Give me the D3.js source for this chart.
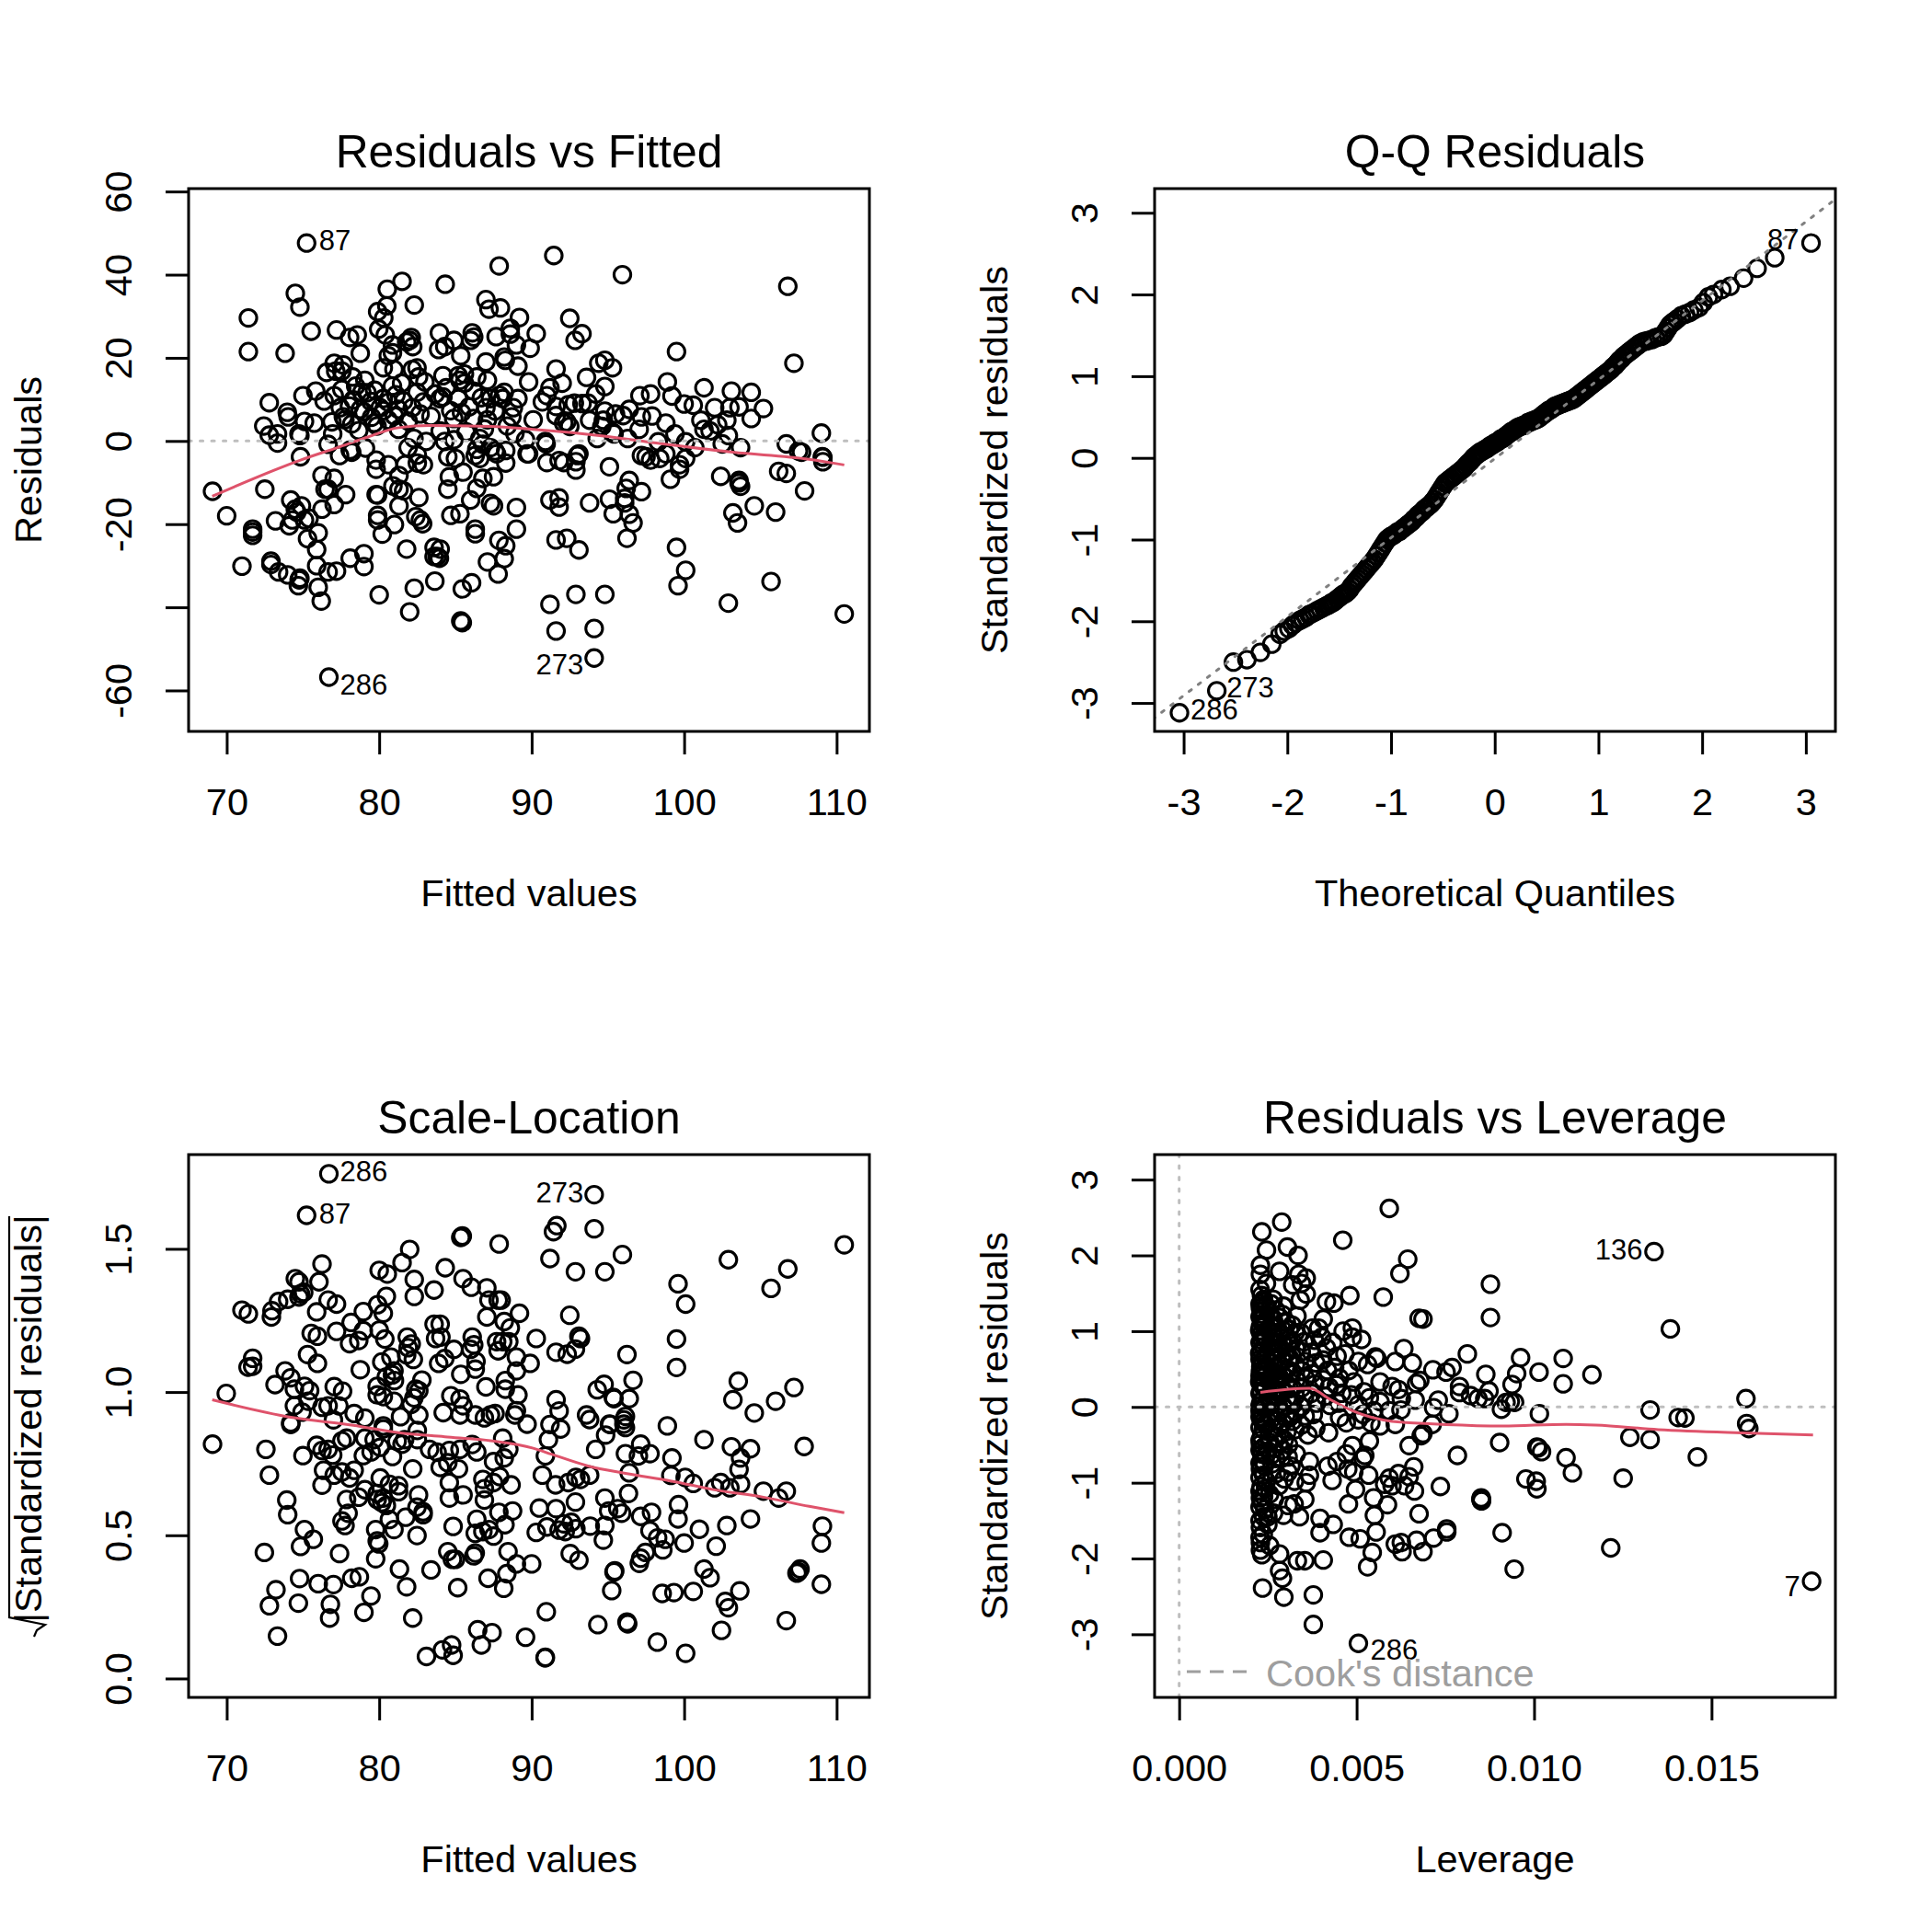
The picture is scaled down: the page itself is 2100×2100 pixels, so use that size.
<!DOCTYPE html>
<html>
<head>
<meta charset="utf-8">
<script src="https://cdn.jsdelivr.net/npm/d3@7"></script>
<style>
  html, body { margin: 0; padding: 0; background: #fff; }
  text { font-family: "Liberation Sans", Arial, sans-serif; fill: #000; }
</style>
</head>
<body>
<div id="chart"></div>
<script>
// values
var fittedTicks = [70, 80, 90, 100, 110];
var fittedTickLabels = ['70', '80', '90', '100', '110'];
var residTicks = [-60, -40, -20, 0, 20, 40, 60];
var residTickLabels = ['-60', '', '-20', '0', '20', '40', '60'];
var qqTicks = [-3, -2, -1, 0, 1, 2, 3];
var qqTickLabels = ['-3', '-2', '-1', '0', '1', '2', '3'];
var scaleTicks = [0, 0.5, 1, 1.5];
var scaleTickLabels = ['0.0', '0.5', '1.0', '1.5'];
var levTicks = [0, 0.005, 0.01, 0.015];
var levTickLabels = ['0.000', '0.005', '0.010', '0.015'];

var residPoints = [
[75.24,47.6],[87.87,42.1],[81.5,38.4],[80.53,36.5],[84.33,37.7],[74.5,35.5],[74.8,32.2],[82.3,32.7],[80.5,32.5],[79.9,31.1],[80.3,29.6],[71.42,29.6],
[87,34],[87.2,31.7],[87.95,32],[89.2,29.7],[88.6,27.1],[75.54,26.4],[77.2,26.7],[78.06,24.9],[78.56,25.5],[79.97,26.9],[80.4,25.5],[71.42,21.5],[73.83,21.1],[78.76,21.1],
[80.87,23.1],[80.6,20.5],[80.87,21.2],[82.1,24.9],[81.8,23.8],[82.2,22.7],[82,24.2],[83.95,26],[84.9,24.2],[83.9,22],[84.3,22.7],[85.35,20.5],[86.1,26],[86,24.2],[86.2,25],
[87.67,25.1],[88.6,25.7],[89,23.1],[90.3,25.8],[89.9,22.3],[87,19],[88.27,19.4],[88.2,20.2],[89.1,18],[89.8,14.2],
[77.05,18.7],[77.65,18.3],[76.55,16.5],[77.15,16.8],[77.55,16.8],[80.27,17.6],[80.97,17.2],[82.17,17.2],[82.48,17.6],[82.58,15.4],[84.18,15.7],[85.19,15.7],[85.59,16.1],[86.4,15.4],[85.29,14.6],[85.59,13.9],[87.1,14.6],
[78.26,15.4],[79.06,14.6],[78.46,13.2],[78.05,8.4],[77.45,8],[77.65,5.8],[77.75,5.1],[78.76,7.6],[78.86,11.7],[79.46,9.5],[80.06,8],[80.87,13.2],[80.27,7.3],[79.86,3.6],[81.27,7.6],[80.27,10.2],[81.47,13.9],[82.48,11.7],[82.17,8],[82.68,6.5],[81.27,2.8],[82.28,0.6],[83.08,-0.1],
[83.68,11.3],[84.18,10.6],[83.98,10.2],[84.69,7.3],[84.89,5.4],[85.19,10.2],[86.19,12],[87,8],[86.19,5.4],[87.1,5.1],[87.9,11],[88.2,11.7],[88.8,8],[88.1,10.2],[88.7,5.8],[87.3,10.2],[88.4,3.6],[89.6,0.3],[90.1,5.1],[86.6,0.6],[84.9,0.3],[84.3,-0.1],
[79.66,4.3],[78.66,2.5],[76.95,1.7],[76.65,-0.8],[74.74,1.7],[74.8,1.3],[73.33,1.7],[73.33,-0.5],[72.79,1.4],[72.43,3.6],[73.97,6.9],[74.03,5.8],[75.1,4.7],[75.74,4.3],[72.79,9.2],[75,10.9],[75.84,12],[76.39,9.6],[77.05,10.9],[77.55,12.4],
[79.5,5.7],[80.6,5],[78.3,9.9],[81.1,11.1],[79.7,12.2],[76.9,4.6],[81.9,4.8],[85.9,8.2],[86.9,2.9],[88.9,1.8],[85.7,2.2],[83.4,5.9],[79.1,-1.7],[78.1,-2.2],[74.84,-3.8],[81.9,-1.6],[82.5,-3.4],[88.3,-2.3],[87.3,-1.6],[86.8,-0.8],[87.6,-2.4],[89.7,-3.1],[86.4,-2],
[79.2,11.6],[80.6,9.3],[81.6,9.6],[79,7],[81,6],[82.9,9.4],[84.4,12.8],[86.7,10.4],[87.6,7.2],[85.4,6.8],[89.1,10.2],[78.2,4.1],[84,2.4],[83,14.2],
[91.45,44.6],[95.95,40],[106.8,37.2],[92.5,29.5],[93.3,25.8],[92.85,24.2],[99.5,21.5],[107.2,18.7],[91.6,17.3],[92,13.9],[93.6,15.3],[94.4,18.7],[94.8,19.4],[95.3,17.6],[94.8,13.1],[94.2,11.3],
[91.2,12.8],[91,10.9],[90.7,9.4],[91.6,8.3],[92.4,8.7],[92.8,9.1],[93.3,9],[93.7,9.1],[91.6,6.1],[92.3,4.6],[92.5,3.5],[92.1,4.3],[93.8,5],[94.8,7.2],[94.7,5],[94.6,3.5],[95.3,2.1],
[96,6.1],[95.5,6.5],[96.4,7.6],[97.1,10.9],[97.8,11.3],[97.2,5.8],[97.9,6],[97.05,2.8],[98.8,4.3],[98.9,14.2],[99.2,10.8],[100,8.9],[100.6,8.6],[101.3,12.8],[102,8],[103.1,12],[104.4,11.7],[103,8],[103.6,8.2],[105.2,7.8],[104.4,5.4],[102.8,5],
[101.1,5],[101.3,2.8],[101.7,2.4],[102.2,3.9],[102.9,1.3],[102.5,-0.7],[99.4,1.7],[100.1,-0.2],[100.7,-1.6],[98.3,-0.2],[96.3,0.6],[94.3,0.6],[95.4,1.7],[103.7,-1.6],[106.7,-0.7],[107.5,-2.4],[107.7,-2.7],[109,1.9],[109.06,-3.8],[93.1,-3.1],[90.9,-0.1],[90.95,-0.7],
[95.1,-6.2],[91,-5.2],[91.8,-4.7],[92.1,-5.2],[92.9,-7],[92.9,-5],[93,-3.5],[97.2,-3.5],[97.5,-3.8],[97.8,-4.6],[98.4,-4.2],[98.8,-3.1],[99.7,-5.7],[99.7,-6.8],[100.1,-4.2],[99.1,-9.2],
[102.4,-8.5],[103.6,-9.5],[103.7,-10.9],[103.6,-10.1],[106.2,-7.3],[106.7,-7.8],[107.9,-12],[109.1,-5],[109.1,-3.9],[96.4,-9.5],[96.2,-11.4],[97.2,-12.2],[95.1,-14],[96.1,-13.8],[96.1,-14.9],[93.8,-14.9],
[91.2,-14.2],[91.8,-13.7],[91.8,-15.9],[95.35,-17.5],[96.4,-17.6],[96.65,-19.7],[96.25,-23.4],[103.2,-17.3],[103.5,-19.7],[104.6,-15.6],[106,-17.1],[91.6,-23.8],[92.3,-23.4],[93.1,-26.2],
[99.5,-25.6],[100.1,-31.1],[99.6,-34.8],[105.7,-33.8],[102.9,-39],[110.5,-41.6],[91.2,-39.3],[92.9,-36.9],[94.8,-36.9],[91.6,-45.7],[94.1,-45.1],[94.1,-52.2],
[69.07,-12.1],[70,-18],[72.5,-11.6],[71.7,-21.9],[71.7,-22.7],[71.7,-21.2],[73.2,-19.2],[71,-30.1],[72.9,-28.9],[72.9,-29.7],[73.4,-31.5],[74,-32.2],[74.7,-34.8],[74.8,-33],[74.75,-33.4],
[76,-35.2],[76.2,-38.5],[75.9,-30],[76.65,-31.5],[77.2,-31.3],[78.1,-28.2],[79,-27.1],[79,-30.2],[75.9,-26.1],[75.3,-23.5],[76,-22.1],
[74.2,-14.2],[74.5,-16.4],[74.1,-20.4],[74.3,-19],[74.9,-15.6],[74.6,-17.1],[75.1,-19],[75.4,-18.6],[76.25,-16.4],
[76.25,-8.3],[77.05,-9],[76.45,-11.6],[76.65,-11.6],[77.05,-15.3],[77.8,-12.9],[77.4,-3.5],[78.2,-2.7],
[79.8,-4.6],[79.8,-6.8],[80.6,-5.7],[81.7,-5.7],[81.3,-8.3],[82.5,-5.3],[82.9,-5.7],[79.8,-12.9],[79.9,-13],[80.9,-10.8],[81.3,-11.6],[81.6,-12],[81.3,-15.6],[82.6,-13.6],
[79.9,-17.9],[79.9,-19],[81,-20.1],[80.2,-22.4],[82.4,-18.2],[82.7,-19],[82.85,-19.9],[81.8,-26],[83.6,-25.6],[84,-26],[83.8,-27.8],[83.95,-28.2],[83.6,-27.8],
[80,-37],[82.3,-35.4],[83.65,-33.7],[82,-41.1],[85.4,-43.5],[85.45,-43.7],[85.35,-43.3],[85.45,-35.6],[86.06,-34.1],
[84.6,-8.6],[84.5,-11.6],[85.5,-7.5],[87.5,-8.6],[86.8,-9],[86.4,-11.4],[86,-14.2],[84.7,-17.9],[85.3,-17.5],[87.3,-15],[87.5,-15.6],[89,-16],[89,-21.2],
[86.3,-21.2],[86.3,-22.3],[87.85,-23.9],[88.3,-25.2],[88.2,-28.3],[87.1,-29.1],[87.8,-32],[76.7,-56.8],[84.5,-3.8],[85,-4.2],[86.3,-3.5],[86.6,-4.2],[88.3,-5.3],[87.7,-3.1],[89.8,-3.1]
];
var residSmooth = [[69.05,-13.3],[74.84,-4.6],[77.25,-1.6],[79.26,0.96],[81.27,3.2],[83.3,3.7],[87.3,3.5],[90.1,2.8],[94.74,1.2],[98.16,-0.5],[103.2,-2.7],[108.2,-4.4],[110.5,-5.76]];

var qqPoints = [
[-3.04,-3.12],[-2.68,-2.85],[-2.52,-2.5],[-2.39,-2.47],[-2.26,-2.38],[-2.15,-2.28],[-2.07,-2.16],[-2.03,-2.12],[-1.985,-2.09],[-1.95,-2.05],[-1.92,-2.02],
[-1.88,-1.99],[-1.85,-1.97],[-1.82,-1.95],[-1.79,-1.92],[-1.77,-1.91],[-1.74,-1.89],[-1.71,-1.87],[-1.68,-1.85],[-1.65,-1.83],[-1.62,-1.81],[-1.6,-1.8],[-1.58,-1.78],[-1.56,-1.77],[-1.54,-1.75],[-1.52,-1.73],[-1.5,-1.71],[-1.48,-1.69],[-1.46,-1.67],[-1.44,-1.66],
[-1.42,-1.64],[-1.4,-1.61],[-1.38,-1.57],[-1.36,-1.54],[-1.34,-1.51],[-1.32,-1.48],[-1.3,-1.45],[-1.28,-1.42],[-1.26,-1.39],[-1.24,-1.36],[-1.22,-1.33],[-1.2,-1.3],[-1.18,-1.27],[-1.16,-1.24],[-1.14,-1.2],[-1.12,-1.16],[-1.1,-1.12],[-1.08,-1.08],[-1.06,-1.04],[-1.04,-1],
[-1.02,-0.98],[-1,-0.96],[-0.98,-0.95],[-0.96,-0.93],[-0.94,-0.91],[-0.92,-0.9],[-0.9,-0.88],[-0.88,-0.86],[-0.86,-0.84],[-0.84,-0.82],[-0.82,-0.8],[-0.8,-0.78],[-0.78,-0.75],[-0.76,-0.73],[-0.74,-0.7],[-0.72,-0.68],[-0.7,-0.66],[-0.68,-0.63],[-0.66,-0.61],[-0.64,-0.59],[-0.62,-0.57],[-0.6,-0.54],[-0.58,-0.51],[-0.56,-0.47],[-0.54,-0.43],[-0.52,-0.39],[-0.5,-0.35],[-0.48,-0.31],
[-0.46,-0.29],[-0.44,-0.27],[-0.42,-0.25],[-0.4,-0.23],[-0.38,-0.21],[-0.36,-0.19],[-0.34,-0.17],[-0.32,-0.15],[-0.3,-0.13],[-0.28,-0.1],[-0.26,-0.07],[-0.24,-0.05],[-0.22,-0.02],[-0.2,0.01],[-0.18,0.03],[-0.16,0.05],[-0.14,0.07],[-0.12,0.08],[-0.1,0.1],[-0.08,0.11],[-0.06,0.13],[-0.04,0.15],[-0.02,0.16],[0,0.18],[0.02,0.19],[0.04,0.21],
[0.06,0.23],[0.08,0.24],[0.1,0.26],[0.12,0.28],[0.14,0.3],[0.16,0.32],[0.18,0.33],[0.2,0.35],[0.22,0.37],[0.24,0.38],[0.26,0.39],[0.28,0.4],[0.3,0.41],[0.32,0.43],[0.34,0.44],[0.36,0.45],[0.38,0.46],[0.4,0.47],[0.42,0.48],[0.44,0.5],[0.46,0.52],[0.48,0.54],[0.5,0.56],[0.52,0.58],[0.54,0.59],[0.56,0.61],[0.58,0.63],[0.6,0.64],[0.62,0.65],[0.64,0.66],[0.66,0.67],[0.68,0.68],[0.7,0.69],[0.72,0.7],[0.74,0.71],[0.76,0.72],
[0.78,0.74],[0.8,0.76],[0.82,0.78],[0.84,0.8],[0.86,0.82],[0.88,0.84],[0.9,0.86],[0.92,0.88],[0.94,0.9],[0.96,0.92],[0.98,0.94],[1,0.96],[1.02,0.98],[1.04,1],[1.06,1.02],[1.08,1.04],[1.1,1.06],[1.12,1.08],[1.14,1.11],[1.16,1.13],[1.18,1.16],[1.2,1.19],[1.22,1.21],[1.24,1.24],[1.26,1.26],[1.28,1.28],[1.3,1.3],[1.32,1.32],[1.34,1.34],[1.36,1.36],[1.38,1.38],[1.4,1.4],
[1.43,1.42],[1.46,1.43],[1.49,1.44],[1.52,1.45],[1.55,1.47],[1.58,1.48],[1.61,1.49],[1.63,1.51],[1.65,1.55],[1.67,1.59],[1.69,1.63],[1.71,1.65],[1.73,1.67],[1.76,1.7],[1.8,1.74],[1.84,1.76],[1.88,1.78],[1.92,1.81],[1.97,1.84],[2.01,1.9],[2.06,1.97],[2.11,2],[2.19,2.06],[2.27,2.1],[2.4,2.2],[2.53,2.32],[2.7,2.45],[3.05,2.63]
];
var qqLine = [[-3.3,-3.2],[3.3,3.18]];

var scalePoints = [
[76.7,1.762],[75.24,1.617],[85.4,1.542],[85.35,1.54],[85.45,1.545],[87.87,1.517],[82,1.498],[81.5,1.452],[84.33,1.434],[76.25,1.447],[76.05,1.385],[74.5,1.396],[74.74,1.385],[74.84,1.343],[75.05,1.348],[74.74,1.332],[74,1.324],[73.4,1.316],[72.97,1.284],[72.93,1.262],[71,1.286],[71.42,1.273],
[80,1.425],[80.53,1.412],[82.3,1.393],[82.3,1.334],[83.6,1.356],[85.5,1.396],[86.04,1.366],[87.06,1.364],[87.2,1.321],[87.8,1.321],[88,1.321],[87.06,1.262],[89.2,1.275],[88.2,1.246],[88.6,1.224],[75.9,1.28],[76.65,1.321],[77.2,1.307],
[80.47,1.334],[79.9,1.305],[80.27,1.275],[78.96,1.281],[78.16,1.243],[77.2,1.212],[78.96,1.214],[80,1.216],[80.37,1.185],[75.54,1.205],[75.95,1.195],[78.66,1.18],[78.06,1.169],[81.84,1.192],[82.1,1.168],[81.9,1.155],[81.8,1.13],[82.24,1.114],
[83.6,1.237],[84,1.237],[83.7,1.187],[84.05,1.192],[86.1,1.192],[86.2,1.165],[84.9,1.149],[86,1.149],[87.7,1.176],[87.8,1.144],[88.5,1.176],[88.1,1.176],[89,1.122],[89,1.074],[84.3,1.117],[83.9,1.1],[86.35,1.107],[86.3,1.08],[85.35,1.062],
[75.3,1.131],[75.95,1.1],[71.7,1.118],[71.4,1.087],[71.7,1.09],[80.17,1.105],[80.77,1.122],[78.76,1.078],[80.97,1.074],[80.47,1.053],[80.87,1.06],[81,1.04],[82.8,1.042],[82.4,1.01],[82.6,1.005],[82.28,0.98],
[73.83,1.074],[74.2,1.05],[73.17,1.026],[75.1,1.02],[75.44,1.005],[74.44,1.01],[74.44,0.952],[74.94,0.93],[75.34,0.968],[77.05,1.019],[77.6,1.003],[69.97,0.995],[79.87,1.02],[79.87,0.99],[80.27,0.984],[80.97,0.968],
[87,1.018],[88.27,1.04],[88.27,1.01],[89.1,0.99],[84.7,0.987],[85.3,0.976],[85.5,0.952],[84.2,0.928],[89,0.935],[76.25,0.947],[76.65,0.952],[77.35,0.952],[78.36,0.925],[79.06,0.909],[81.4,0.914],[82.6,0.92],[82.1,0.957],
[85.3,0.92],[86.3,0.92],[87.3,0.92],[87.6,0.925],[86.9,0.91],[88.9,0.92],[74.2,0.893],[77,0.903],[80.27,0.882],[89.7,0.888],
[94.1,1.689],[91.65,1.581],[91.43,1.56],[94.1,1.57],[91.2,1.466],[92.87,1.42],[94.8,1.42],[95.95,1.48],[106.8,1.43],[105.7,1.362],[102.9,1.462],[110.5,1.514],[99.6,1.378],[100.1,1.307],[99.5,1.185],[99.5,1.086],
[92.5,1.268],[93.1,1.195],[93.2,1.187],[92.87,1.15],[92.33,1.132],[91.6,1.139],[90.3,1.187],[89.9,1.1],[96.25,1.131],[96.65,1.041],[96.4,0.977],[95.35,0.981],[95.4,0.977],[94.75,1.027],[94.3,1.008],
[91.6,0.973],[91.8,0.934],[93.6,0.92],[93.8,0.904],[96.15,0.915],[95.1,0.888],[96.05,0.888],[98.9,0.882],[103.55,1.038],[103.2,0.973],[104.6,0.927],[106,0.968],[107.2,1.016],
[69.07,0.818],[74.2,0.887],[72.57,0.8],[72.8,0.71],[75,0.778],[75.9,0.814],[76.25,0.796],[76.65,0.8],[76.95,0.78],[77.56,0.83],[77.86,0.839],[79.06,0.839],[79.67,0.834],[80.27,0.871],[80.07,0.807],[79.47,0.791],[78.96,0.778],[80.87,0.775],[81.5,0.818],[81.67,0.834],[81.17,0.828],[82.5,0.866],[82.5,0.834],[83.3,0.8],[83.8,0.79],[84.6,0.796],[85.3,0.8],[84,0.737],[84.5,0.753],[85.2,0.732],[86.1,0.817],[86.4,0.791],[88.1,0.839],[88.5,0.8],[88.2,0.77],[87.5,0.757],
[82.2,0.732],[76.35,0.727],[77.05,0.71],[77.56,0.721],[78.36,0.727],[78.06,0.7],[76.25,0.675],[80.07,0.7],[80.67,0.678],[81.27,0.673],[79.06,0.659],[77.86,0.625],[78.66,0.633],[79.87,0.625],[80.17,0.614],[80.47,0.604],[79.87,0.646],[80.27,0.63],[81.27,0.652],[82.58,0.641],[82.48,0.598],[82.88,0.582],[82.88,0.572],[81.74,0.563],[80.67,0.555],[80.97,0.52],[82.48,0.499],
[84.6,0.684],[84.6,0.63],[85.5,0.641],[86.9,0.623],[86.8,0.695],[86.9,0.663],[87.5,0.684],[87.9,0.705],[88.65,0.676],[87.85,0.58],[88.75,0.585],[86.4,0.556],[88.25,0.537],[84.85,0.531],[86.3,0.507],[86.8,0.513],[87.2,0.52],[87.5,0.497],
[73.94,0.623],[74,0.572],[75.1,0.52],[75.68,0.486],[74.84,0.461],[72.47,0.44],[77.4,0.436],[77.96,0.577],[77.56,0.55],[77.76,0.534],[79.77,0.52],[79.87,0.48],[79.97,0.47],[79.77,0.418],[84.5,0.443],[85,0.416],[84.8,0.416],[86.3,0.438],[86.2,0.428],[88.45,0.443],[89,0.4],[88.37,0.366],[88.17,0.315],[87.14,0.35],[85.15,0.317],[81.33,0.382],[81.8,0.32],[83.4,0.379],
[73.23,0.31],[72.8,0.254],[74.78,0.349],[76,0.331],[77,0.328],[78.2,0.35],[78.7,0.355],[79.46,0.288],[74.7,0.263],[76.8,0.259],[76.75,0.211],[79,0.231],[82.2,0.211],[73.33,0.148],[86.46,0.17],[87.4,0.16],[86.7,0.117],[89.6,0.144],[84.75,0.117],[84.15,0.1],[84.85,0.081],[83.1,0.077],
[101.3,0.834],[103.1,0.809],[104.35,0.802],[107.87,0.81],[103.7,0.77],[103.6,0.73],[103.7,0.679],[105.2,0.654],[106.7,0.654],[106.2,0.63],[91.1,0.834],[91.9,0.871],[91.2,0.887],[94.85,0.85],[94.2,0.8],[96.15,0.876],[95.15,0.887],[96.05,0.903],
[96.15,0.785],[97,0.777],[97.15,0.818],[97.76,0.785],[99.2,0.77],[99.13,0.709],[100.07,0.702],[100.6,0.681],[102,0.666],[102.4,0.684],[103,0.666],[96.4,0.718],[90.9,0.777],[90.7,0.71],[91.57,0.676],[92.4,0.684],[92.9,0.702],[93.2,0.695],[93.8,0.71],[96.35,0.646],
[90.5,0.595],[91.6,0.593],[92.87,0.616],[94.8,0.63],[95.05,0.585],[95.65,0.593],[95.9,0.577],[97.15,0.566],[97.86,0.58],[99.63,0.607],[99.6,0.557],[90.3,0.51],[91,0.529],[91.8,0.518],[92.2,0.513],[92.6,0.545],[92.9,0.523],[92.1,0.54],[93.84,0.532],[94.8,0.534],[94.7,0.483],
[97.76,0.516],[98.26,0.491],[98.76,0.486],[98.6,0.449],[100,0.473],[101,0.521],[102.8,0.534],[104.35,0.557],[102.1,0.462],[109.07,0.532],[109,0.473],[92.53,0.436],[93.1,0.413],[90,0.4],[97.46,0.44],[97.15,0.42],[97.06,0.402],[95.45,0.376],[95.4,0.372],[95.25,0.307],
[101.3,0.382],[101.7,0.352],[98.56,0.297],[99.33,0.3],[100.6,0.304],[103.65,0.306],[102.7,0.269],[102.9,0.247],[107.6,0.382],[107.4,0.368],[107.5,0.373],[109,0.329],[90.96,0.233],[94.34,0.188],[96.25,0.197],[96.3,0.191],[102.45,0.168],[106.7,0.202],[98.24,0.127],[100.1,0.088],[90.88,0.072],[90.9,0.074]
];
var scaleSmooth = [[69.05,0.973],[74.2,0.912],[78.3,0.884],[81.27,0.858],[84.3,0.844],[87.3,0.83],[90.1,0.804],[91.3,0.783],[93.7,0.742],[96.15,0.716],[99.17,0.689],[102.2,0.657],[105.2,0.633],[108.2,0.601],[110.5,0.579]];

var levPoints = [
[0.00592,2.62],[0.00289,2.44],[0.00233,2.31],[0.00461,2.2],[0.00246,2.07],[0.00305,2.11],[0.00335,2],[0.00644,1.95],[0.00622,1.76],[0.00229,1.87],[0.00229,1.75],[0.00246,1.63],[0.00283,1.79],[0.00337,1.75],[0.00358,1.7],[0.00345,1.63],[0.0032,1.61],[0.00358,1.49],[0.00341,1.41],
[0.00481,1.47],[0.00436,1.37],[0.00415,1.39],[0.00575,1.45],[0.00676,1.17],[0.00687,1.16],[0.00406,1.16],[0.00393,1.04],[0.00332,1.2],[0.00294,1.33],[0.00462,1],[0.00488,1.04],[0.00488,0.92],[0.00514,0.89],[0.00467,0.7],
[0.00633,0.77],[0.00812,0.7],[0.00609,0.6],[0.00657,0.58],[0.00557,0.64],[0.00553,0.66],[0.00531,0.56],[0.00505,0.6],[0.00715,0.49],[0.00752,0.46],[0.00769,0.52],[0.00864,0.43],[0.00678,0.35],[0.00669,0.31],[0.00566,0.33],[0.00618,0.23],[0.006,0.27],[0.0079,0.27],[0.00821,0.15],[0.00842,0.11],[0.0079,0.19],[0.0073,0.09],[0.00717,-0.01],[0.0076,-0.09],[0.00665,0.09],[0.00626,0.11],[0.00566,0.07],[0.00873,0.21],[0.00861,0.11],
[0.00421,-0.34],[0.00471,-0.21],[0.0054,-0.21],[0.00566,-0.25],[0.00609,-0.23],[0.00687,-0.35],[0.00713,-0.23],[0.00648,-0.51],[0.00784,-0.64],[0.00682,-0.38],[0.00419,-0.78],[0.00445,-0.72],[0.00471,-0.62],[0.00488,-0.51],[0.00536,-0.45],[0.00523,-0.64],[0.00518,-0.68],[0.00475,-0.82],[0.00492,-0.86],[0.00431,-0.97],[0.00534,-0.9],[0.00497,-1.09],
[0.00661,-0.79],[0.00618,-0.88],[0.00592,-0.94],[0.00579,-1.02],[0.006,-1.04],[0.00648,-0.92],[0.00635,-1.04],[0.00663,-1.11],[0.00736,-1.05],[0.00851,-1.22],[0.00851,-1.23],[0.00851,-1.2],[0.00477,-1.28],[0.00548,-1.2],[0.00587,-1.29],[0.0055,-1.43],[0.00676,-1.41],[0.00397,-1.47],[0.00434,-1.55],[0.00397,-1.66],[0.00479,-1.72],[0.0051,-1.74],[0.00555,-1.65],
[0.00609,-1.81],[0.00626,-1.79],[0.00628,-1.91],[0.00669,-1.76],[0.00687,-1.91],[0.00717,-1.73],[0.00754,-1.61],[0.00754,-1.65],[0.00544,-1.92],[0.00531,-2.11],[0.00333,-2.03],[0.00354,-2.03],[0.00406,-2.02],[0.00283,-1.94],[0.00283,-2.16],[0.00291,-2.26],[0.00235,-2.39],[0.00295,-2.51],[0.00378,-2.48],[0.00378,-2.87],[0.00505,-3.12],
[0.00229,-0.49],[0.00233,-0.62],[0.00229,-0.82],[0.00238,-0.9],[0.00229,-1.2],[0.00233,-1.26],[0.0025,-1.45],[0.00229,-1.59],[0.0025,-1.55],[0.00229,-1.79],[0.00255,-1.83],[0.00229,-1.89],[0.00233,-1.95],[0.00307,-0.66],[0.00315,-0.78],[0.00307,-0.86],[0.00367,-0.72],[0.00358,-1],[0.00367,-0.9],[0.00281,-1.04],[0.00307,-1.3],[0.00294,-1.43],[0.00339,-1.45],[0.00354,-1.22],[0.00324,-1.28],[0.00363,-0.37],
[0.00233,-0.7],[0.00246,-0.98],[0.00231,-1.05],[0.00255,-1.15],[0.00262,-0.75],[0.00274,-0.88],[0.00268,-1.22],[0.00241,-1.35],[0.00266,-1.4],[0.00296,-0.95],[0.0033,-0.62],[0.00288,-0.68],[0.00325,-0.98],
[0.00228,-0.44],[0.00238,-0.53],[0.00228,-0.57],[0.00244,-0.64],[0.00228,-0.74],[0.0024,-0.78],[0.00228,-0.93],[0.00243,-1.08],[0.00228,-1.11],[0.00238,-1.18],[0.00228,-1.32],[0.00238,-1.45],[0.00228,-1.5],[0.00237,-1.68],[0.00228,-1.72],[0.00256,-0.47],[0.00268,-0.55],[0.00259,-0.64],[0.00281,-0.49],[0.00296,-0.43],[0.00292,-0.57],[0.00308,-0.5],[0.00272,-0.68],
[0.00951,0.44],[0.01014,0.46],[0.01082,0.305],[0.01163,0.426],[0.00938,0.296],[0.00921,0.06],[0.00945,0.06],[0.00933,0.07],[0.00908,-0.03],[0.01015,-0.09],
[0.01338,2.05],[0.00877,1.62],[0.00877,1.18],[0.01384,1.03],[0.00962,0.65],[0.01082,0.64],[0.01327,-0.04],[0.01406,-0.14],[0.01425,-0.145],[0.01597,0.11],[0.01599,-0.22],[0.01605,-0.285],[0.0127,-0.4],[0.01327,-0.43],[0.0146,-0.66],[0.00903,-0.47],[0.01008,-0.53],[0.01012,-0.54],[0.01021,-0.59],[0.0109,-0.67],[0.01108,-0.87],[0.00977,-0.95],[0.01006,-0.98],[0.01008,-1.08],[0.01251,-0.94],[0.00851,-1.21],[0.00852,-1.24],[0.0091,-1.66],[0.00944,-2.14],[0.01216,-1.86],[0.01782,-2.3],
[0.00228,1.55],[0.00232,1.47],[0.00238,1.42],[0.00228,1.36],[0.00245,1.33],[0.00232,1.27],[0.00255,1.24],[0.00228,1.19],[0.00242,1.13],[0.00229,1.06],[0.00252,1.02],[0.00231,0.96],[0.00243,0.9],[0.00228,0.85],[0.00254,0.8],[0.00232,0.74],[0.00244,0.68],[0.00228,0.63],[0.00255,0.58],[0.0023,0.53],[0.00241,0.47],[0.00228,0.41],[0.00253,0.36],[0.00232,0.3],[0.00243,0.24],[0.00228,0.18],[0.00252,0.13],[0.00231,0.07],[0.00242,0.01],[0.00228,-0.05],[0.00253,-0.1],[0.00231,-0.16],[0.00243,-0.22],[0.00228,-0.27],[0.00254,-0.33],[0.00232,-0.39],
[0.00234,1.39],[0.00229,1.31],[0.00237,1.22],[0.00233,1.16],[0.00236,1.1],[0.00227,1.01],[0.00238,0.94],[0.00233,0.88],[0.00238,0.79],[0.00227,0.71],[0.00236,0.61],[0.00234,0.56],[0.00229,0.47],[0.00237,0.39],[0.00227,0.33],[0.00236,0.27],[0.00231,0.21],[0.00236,0.1],[0.00228,0.02],[0.00236,-0.08],[0.00228,-0.13],[0.00236,-0.2],[0.00237,-0.3],
[0.00265,1.42],[0.00272,1.28],[0.00266,1.14],[0.00277,1.04],[0.00268,0.93],[0.00279,0.84],[0.00266,0.73],[0.00275,0.63],[0.00267,0.52],[0.00279,0.43],[0.00268,0.33],[0.00276,0.22],[0.00266,0.12],[0.00279,0.03],[0.00267,-0.07],[0.00276,-0.18],[0.00266,-0.29],[0.00277,-0.4],
[0.00259,1.36],[0.00261,1.18],[0.00259,0.98],[0.00262,0.87],[0.00261,0.66],[0.00263,0.47],[0.00261,0.27],[0.00259,0.05],[0.00261,-0.15],[0.00283,1.18],[0.00285,0.96],[0.00286,0.76],[0.00284,0.56],[0.00286,0.37],[0.00284,0.17],[0.00286,-0.05],[0.00285,-0.25],
[0.00291,1.22],[0.00302,1.12],[0.00293,1.01],[0.00305,0.92],[0.00294,0.81],[0.00303,0.71],[0.00292,0.6],[0.00305,0.5],[0.00293,0.41],[0.00302,0.31],[0.00292,0.2],[0.00304,0.11],[0.00293,0.01],[0.00301,-0.1],[0.00292,-0.2],[0.00304,-0.32],
[0.00311,1.02],[0.00312,0.84],[0.00311,0.65],[0.00312,0.44],[0.00311,0.24],[0.00312,0.06],[0.00311,-0.14],
[0.00318,1.08],[0.00327,0.98],[0.00318,0.87],[0.00329,0.77],[0.00319,0.67],[0.00328,0.56],[0.00318,0.46],[0.00329,0.36],[0.00319,0.25],[0.00327,0.14],[0.00318,0.04],[0.00328,-0.07],[0.00319,-0.19],[0.00327,-0.3],
[0.00343,0.98],[0.00352,0.86],[0.00344,0.73],[0.00355,0.6],[0.00345,0.48],[0.00356,0.38],[0.00345,0.25],[0.00353,0.12],[0.00344,0],[0.00355,-0.12],[0.00345,-0.24],
[0.00375,1.04],[0.00381,0.88],[0.00373,0.72],[0.00385,0.58],[0.00374,0.44],[0.00382,0.3],[0.00373,0.18],[0.00387,0.05],[0.00378,-0.1],[0.00385,-0.28],
[0.00402,0.92],[0.00415,0.78],[0.00405,0.62],[0.00418,0.48],[0.00406,0.36],[0.00423,0.26],[0.00412,0.14],[0.00425,0.02],[0.00433,0.85],[0.00445,0.67],[0.00438,0.52],[0.00452,0.38],[0.00443,0.29],[0.00458,0.18],[0.00449,0.05],[0.00478,0.48],[0.00492,0.33],[0.00485,0.16],[0.00505,0.03],[0.00521,0.2],[0.00536,0.12],[0.00548,-0.05],[0.00518,-0.1],[0.00592,-0.05],[0.00625,-0.04],[0.00452,-0.14],[0.00505,-0.17]
];
var levSmooth = [[0.00229,0.193],[0.00367,0.246],[0.00428,0.092],[0.00488,-0.05],[0.006,-0.19],[0.00704,-0.22],[0.00877,-0.25],[0.00912,-0.252],[0.0109,-0.229],[0.01173,-0.238],[0.0135,-0.3],[0.0161,-0.345],[0.01786,-0.369]];

var panelW = 740;
var panelH = 590;
var tickLen = 25;
var pointR = 9.1;
var smoothColor = '#DF536B';
var dotGray = '#BEBEBE';

var svg = d3.select('#chart').append('svg')
    .attr('width', 2100)
    .attr('height', 2100);

svg.append('defs').append('clipPath')
    .attr('id', 'plotClip')
    .append('rect')
    .attr('width', panelW)
    .attr('height', panelH);

// sets up one R style panel and returns its scales
function makePanel(id, left, top, xDomain, yDomain, xTicks, xLabels, yTicks, yLabels, title, xTitle, yTitle) {
  var g = svg.append('g')
      .attr('id', id)
      .attr('transform', 'translate(' + left + ',' + top + ')');

  var x = d3.scaleLinear().domain(xDomain).range([0, panelW]);
  var y = d3.scaleLinear().domain(yDomain).range([panelH, 0]);

  var xAxis = d3.axisBottom(x)
      .tickValues(xTicks)
      .tickFormat(function(d, i) { return xLabels[i]; })
      .tickSizeInner(tickLen)
      .tickSizeOuter(0);
  var yAxis = d3.axisLeft(y)
      .tickValues(yTicks)
      .tickFormat(function(d, i) { return yLabels[i]; })
      .tickSizeInner(tickLen)
      .tickSizeOuter(0);

  var gx = g.append('g').attr('transform', 'translate(0,' + panelH + ')').call(xAxis);
  var gy = g.append('g').call(yAxis);

  gx.select('.domain').remove();
  gy.select('.domain').remove();
  g.selectAll('.tick line').attr('stroke', '#000').attr('stroke-width', 3);

  gx.selectAll('.tick text')
      .attr('y', 90.5)
      .attr('dy', 0)
      .attr('font-size', 41.5)
      .attr('text-anchor', 'middle');
  gy.selectAll('.tick text')
      .attr('x', 0)
      .attr('dy', 0)
      .attr('y', 0)
      .attr('font-size', 41.5)
      .attr('text-anchor', 'middle')
      .attr('transform', 'translate(-62.5,0) rotate(-90)');

  g.append('text')
      .attr('x', panelW / 2)
      .attr('y', -23)
      .attr('text-anchor', 'middle')
      .attr('font-size', 49.8)
      .text(title);
  g.append('text')
      .attr('x', panelW / 2)
      .attr('y', panelH + 190)
      .attr('text-anchor', 'middle')
      .attr('font-size', 41.5)
      .text(xTitle);
  if (yTitle) {
    g.append('text')
        .attr('transform', 'translate(-160,' + (panelH / 2) + ') rotate(-90)')
        .attr('text-anchor', 'middle')
        .attr('font-size', 41.5)
        .text(yTitle);
  }

  return {g: g, x: x, y: y};
}

function drawPoints(p, points) {
  p.g.append('g').selectAll('circle').data(points)
    .enter().append('circle')
      .attr('cx', function(d) { return p.x(d[0]); })
      .attr('cy', function(d) { return p.y(d[1]); })
      .attr('r', pointR)
      .attr('fill', 'none')
      .attr('stroke', '#000')
      .attr('stroke-width', 3.1);
}

function drawSmooth(p, points) {
  var line = d3.line()
      .x(function(d) { return p.x(d[0]); })
      .y(function(d) { return p.y(d[1]); })
      .curve(d3.curveMonotoneX);
  p.g.append('path')
      .attr('d', line(points))
      .attr('fill', 'none')
      .attr('stroke', smoothColor)
      .attr('stroke-width', 3);
}

function dotted(p, x1, y1, x2, y2, color) {
  p.g.append('line')
      .attr('clip-path', 'url(#plotClip)')
      .attr('x1', p.x(x1))
      .attr('y1', p.y(y1))
      .attr('x2', p.x(x2))
      .attr('y2', p.y(y2))
      .attr('stroke', color)
      .attr('stroke-width', 3)
      .attr('stroke-linecap', 'round')
      .attr('stroke-dasharray', '3.1 9.4');
}

function drawBox(p) {
  p.g.append('rect')
      .attr('width', panelW)
      .attr('height', panelH)
      .attr('fill', 'none')
      .attr('stroke', '#000')
      .attr('stroke-width', 3);
}

function pointLabel(p, xv, yv, txt, dx, dy, anchor) {
  p.g.append('text')
      .attr('x', p.x(xv) + dx)
      .attr('y', p.y(yv) + dy)
      .attr('text-anchor', anchor)
      .attr('font-size', 31)
      .text(txt);
}

var p1 = makePanel('rvf', 205, 205, [67.5, 112.15], [-69.85, 60.7], fittedTicks, fittedTickLabels, residTicks, residTickLabels,
    'Residuals vs Fitted', 'Fitted values', 'Residuals');
drawPoints(p1, residPoints);
drawSmooth(p1, residSmooth);
dotted(p1, 67.5, 0, 112.15, 0, dotGray);
drawBox(p1);
pointLabel(p1, 75.24, 47.6, '87', 13.5, 7.7, 'start');
pointLabel(p1, 76.7, -56.8, '286', 12, 19, 'start');
pointLabel(p1, 94.1, -52.2, '273', -11.5, 18, 'end');

var p2 = makePanel('qq', 1255, 205, [-3.28, 3.285], [-3.348, 3.296], qqTicks, qqTickLabels, qqTicks, qqTickLabels,
    'Q-Q Residuals', 'Theoretical Quantiles', 'Standardized residuals');
drawPoints(p2, qqPoints);
dotted(p2, qqLine[0][0], qqLine[0][1], qqLine[1][0], qqLine[1][1], '#808080');
drawBox(p2);
pointLabel(p2, 3.05, 2.63, '87', -13, 7, 'end');
pointLabel(p2, -2.68, -2.85, '273', 10.5, 7.7, 'start');
pointLabel(p2, -3.04, -3.12, '286', 12, 7.7, 'start');

var p3 = makePanel('sl', 205, 1255, [67.5, 112.15], [-0.066, 1.829], fittedTicks, fittedTickLabels, scaleTicks, scaleTickLabels,
    'Scale-Location', 'Fitted values', null);
drawPoints(p3, scalePoints);
drawSmooth(p3, scaleSmooth);
drawBox(p3);
pointLabel(p3, 76.7, 1.762, '286', 12, 8.5, 'start');
pointLabel(p3, 75.24, 1.617, '87', 13.5, 8.5, 'start');
pointLabel(p3, 94.1, 1.689, '273', -11.5, 8, 'end');

// y title of the third panel: square root sign plus the bar over the text
var slLabel = p3.g.append('g')
    .attr('transform', 'translate(-160,' + (panelH / 2) + ') rotate(-90)');
slLabel.append('text')
    .attr('x', 8)
    .attr('text-anchor', 'middle')
    .attr('font-size', 41.5)
    .text('|Standardized residuals|');
slLabel.append('path')
    .attr('d', 'M-229,-8 L-222,-5 L-216,4 L-208,-35 L228,-35')
    .attr('fill', 'none')
    .attr('stroke', '#000')
    .attr('stroke-width', 2.2);

var p4 = makePanel('rvl', 1255, 1255, [-0.000692, 0.01849], [-3.833, 3.33], levTicks, levTickLabels, qqTicks, qqTickLabels,
    'Residuals vs Leverage', 'Leverage', 'Standardized residuals');
drawPoints(p4, levPoints);
drawSmooth(p4, levSmooth);
dotted(p4, -0.000692, 0, 0.01849, 0, dotGray);
dotted(p4, 0, -3.833, 0, 3.33, dotGray);
drawBox(p4);
pointLabel(p4, 0.00505, -3.12, '286', 13, 18, 'start');
pointLabel(p4, 0.01338, 2.05, '136', -12.4, 8.4, 'end');
pointLabel(p4, 0.01782, -2.3, '7', -12.3, 16, 'end');

// Cook's distance legend, drawn inside the panel
p4.g.append('line')
    .attr('x1', 35)
    .attr('x2', 100)
    .attr('y1', 562)
    .attr('y2', 562)
    .attr('stroke', '#9E9E9E')
    .attr('stroke-width', 3)
    .attr('stroke-dasharray', '15 10');
p4.g.append('text')
    .attr('x', 121)
    .attr('y', 578)
    .attr('font-size', 41.5)
    .style('fill', '#9E9E9E')
    .text("Cook's distance");
</script>
</body>
</html>
